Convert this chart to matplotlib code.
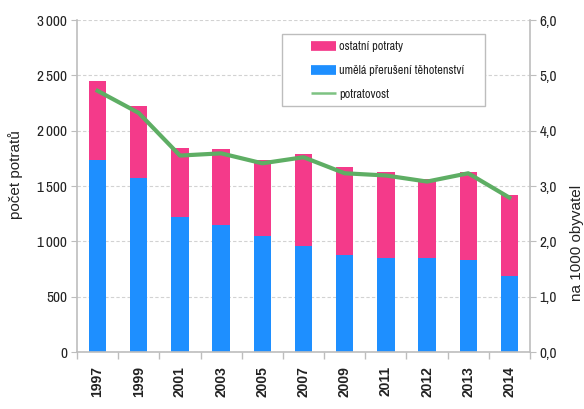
import matplotlib
matplotlib.use("Agg")
import matplotlib.pyplot as plt
import numpy as np
from matplotlib.ticker import FuncFormatter, FixedLocator
from matplotlib.lines import Line2D
from matplotlib.patches import Rectangle

years = ["1997", "1999", "2001", "2003", "2005", "2007", "2009", "2011", "2012", "2013", "2014"]
umela = [1735, 1575, 1220, 1148, 1051, 961, 877, 852, 852, 834, 690]
celkem = [2449, 2223, 1843, 1834, 1735, 1789, 1672, 1627, 1563, 1627, 1419]
ostatni = [c - u for c, u in zip(celkem, umela)]
potratovost = [4.72, 4.32, 3.55, 3.59, 3.41, 3.52, 3.23, 3.19, 3.08, 3.23, 2.79]

pink = "#F43A8A"
blue = "#1E8FFF"
green = "#5EAE64"
grey = "#BDBDBD"
txtc = "#222222"

narrow = ["Archivo Narrow", "PT Sans Narrow", "Liberation Sans", "DejaVu Sans"]
plt.rcParams["font.family"] = ["Liberation Sans", "DejaVu Sans"]

W, H = 584, 409
fig = plt.figure(figsize=(W / 100, H / 100), dpi=100)
L, R, T, B = 77, 530, 20, 352
ax = fig.add_axes([L / W, 1 - B / H, (R - L) / W, (B - T) / H])
x = np.arange(len(years))
w = 0.42
ax.bar(x, umela, w, color=blue, zorder=2)
ax.bar(x, ostatni, w, bottom=umela, color=pink, zorder=2)
ax.set_ylim(0, 3000)
ax.set_xlim(-0.5, len(years) - 0.5)
ax.yaxis.set_major_locator(FixedLocator([0, 500, 1000, 1500, 2000, 2500, 3000]))
ax.yaxis.set_major_formatter(FuncFormatter(lambda v, p: f"{int(v):,}".replace(",", "\u2009")))
ax.grid(axis="y", color="#D2D2D2", linestyle=(0, (3, 2)), linewidth=0.8, zorder=0)
ax.set_xticks(x)
ax.set_xticklabels(years, rotation=90, fontsize=10, fontweight="bold", color=txtc)
ax.tick_params(axis="x", length=0, pad=10)
ax.set_xticks(np.arange(-0.5, len(years), 1), minor=True)
ax.tick_params(axis="x", which="minor", length=5, color=grey, width=1)
ax.tick_params(axis="y", length=4, color=grey, labelsize=11, labelcolor=txtc, pad=3)
for lab in ax.get_yticklabels():
    lab.set_family(narrow)
for s in ["top", "right"]:
    ax.spines[s].set_visible(False)
for s in ["left", "bottom"]:
    ax.spines[s].set_color(grey)
    ax.spines[s].set_linewidth(1.2)
ax.set_ylabel("počet potratů", fontsize=11, color=txtc)
ax.yaxis.set_label_coords((23 - L) / (R - L), (B - 175) / (B - T))

ax2 = ax.twinx()
ax2.plot(x, potratovost, color=green, linewidth=3, zorder=3)
ax2.set_ylim(0, 6)
ax2.yaxis.set_major_locator(FixedLocator([0, 1, 2, 3, 4, 5, 6]))
ax2.yaxis.set_major_formatter(FuncFormatter(lambda v, p: f"{v:.1f}".replace(".", ",")))
ax2.tick_params(axis="y", length=4, color=grey, labelsize=11, labelcolor=txtc, pad=3)
for lab in ax2.get_yticklabels():
    lab.set_family(narrow)
for s in ["top", "left", "bottom"]:
    ax2.spines[s].set_visible(False)
ax2.spines["right"].set_color(grey)
ax2.spines["right"].set_linewidth(1.2)
ax2.set_ylabel("na 1000 obyvatel", fontsize=11, color=txtc)
ax2.yaxis.set_label_coords((570 - L) / (R - L), (B - 243) / (B - T))

# legend frame
fig.patches.append(Rectangle((282 / W, 1 - 106 / H), (485 - 282) / W, (106 - 34) / H,
                             transform=fig.transFigure, facecolor="white",
                             edgecolor=grey, linewidth=1.0, zorder=4))
h1 = Line2D([], [], color=pink, linewidth=7, solid_capstyle="butt")
h2 = Line2D([], [], color=blue, linewidth=7, solid_capstyle="butt")
h3 = Line2D([], [], color="#7DC282", linewidth=1.8, solid_capstyle="butt")
leg = fig.legend([h1, h2, h3], ["ostatní potraty", "umělá přerušení těhotenství", "potratovost"],
                 loc="upper left", bbox_to_anchor=(311 / W, 1 - 41 / H), frameon=False,
                 handlelength=2.05, handletextpad=0.25,
                 prop={"family": narrow, "size": 8.8}, borderpad=0, labelspacing=1.05,
                 borderaxespad=0)
leg.set_zorder(5)
for t in leg.get_texts():
    t.set_color(txtc)

fig.savefig("out.png", dpi=100)
